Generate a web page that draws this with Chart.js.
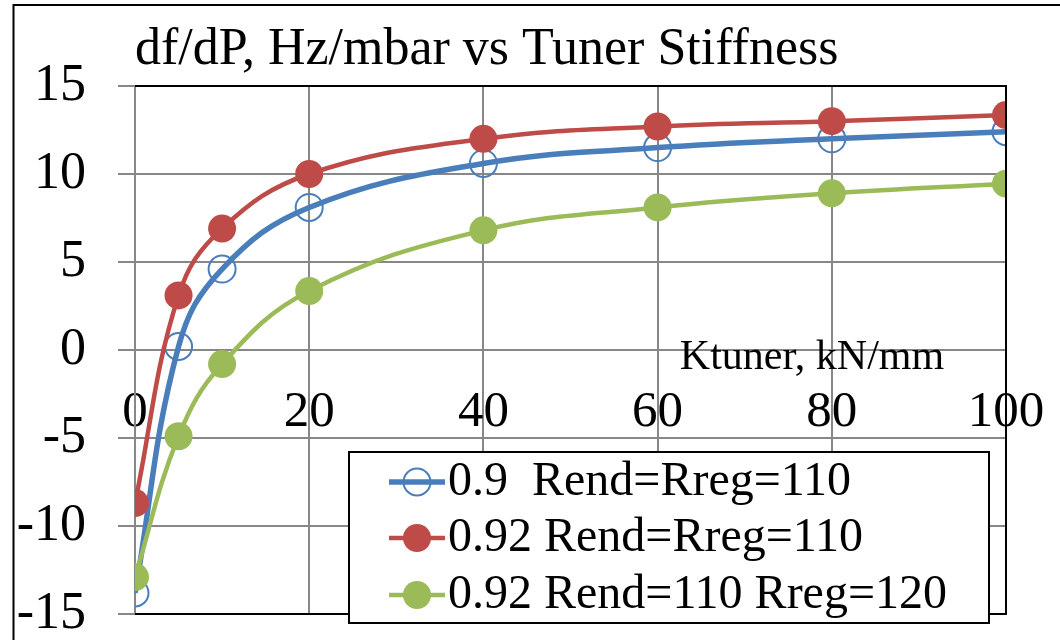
<!DOCTYPE html>
<html>
<head>
<meta charset="utf-8">
<script src="https://cdn.jsdelivr.net/npm/chart.js@4"></script>
<style>
  html, body { margin: 0; padding: 0; background: #fff; }
  #wrap { width: 1060px; height: 640px; }
</style>
</head>
<body>
<div id="wrap"><canvas id="stiffChart" width="1060" height="640"></canvas></div>
<script>
// Ktuner, kN/mm
const kTuner = [0, 5, 10, 20, 40, 60, 80, 100];
// df/dP, Hz/mbar
const s090Rend110 = [-13.8, 0.2, 4.6, 8.1, 10.6, 11.5, 12.0, 12.4];
const s092Rend110 = [-8.7, 3.1, 6.9, 10.0, 12.0, 12.7, 13.0, 13.35];
const s092Rreg120 = [-12.9, -4.9, -0.8, 3.35, 6.8, 8.1, 8.9, 9.45];
const seriesNames = ["0.9  Rend=Rreg=110", "0.92 Rend=Rreg=110", "0.92 Rend=110 Rreg=120"];
const xTicks = [0, 20, 40, 60, 80, 100];
const yTicks = [-15, -10, -5, 0, 5, 10, 15];
const chartTitle = "df/dP, Hz/mbar vs Tuner Stiffness";
const xTitle = "Ktuner, kN/mm";

const serif = "'Liberation Serif', 'Times New Roman', serif";
const gridGray = "#878787";

function toPoints(ys) {
  return kTuner.map(function (x, i) { return { x: x, y: ys[i] }; });
}

// title, legend, plot frame and outer border
const extras = {
  id: "extras",
  afterDraw: function (chart) {
    const ctx = chart.ctx;
    const a = chart.chartArea;
    ctx.save();
    // outer frame
    ctx.strokeStyle = "#000";
    ctx.lineWidth = 2;
    ctx.beginPath();
    ctx.moveTo(13.5, 640);
    ctx.lineTo(13.5, 5);
    ctx.lineTo(1060, 5);
    ctx.stroke();
    // plot frame top/right/bottom
    ctx.beginPath();
    ctx.moveTo(a.left, a.top);
    ctx.lineTo(a.right, a.top);
    ctx.lineTo(a.right, a.bottom);
    ctx.lineTo(a.left, a.bottom);
    ctx.stroke();
    // title
    ctx.fillStyle = "#000";
    ctx.font = "52px " + serif;
    ctx.textAlign = "left";
    ctx.textBaseline = "alphabetic";
    ctx.fillText(chartTitle, a.left, 64);
    // x axis title
    ctx.font = "42px " + serif;
    ctx.textAlign = "center";
    ctx.fillText(xTitle, 812, 369);
    // legend
    const lx = 349, ly = 452, lw = 640, lh = 171;
    ctx.fillStyle = "#fff";
    ctx.fillRect(lx, ly, lw, lh);
    ctx.strokeStyle = "#000";
    ctx.lineWidth = 2;
    ctx.strokeRect(lx, ly, lw, lh);
    const rows = [482, 538, 595];
    chart.data.datasets.forEach(function (ds, i) {
      const y = rows[i];
      ctx.strokeStyle = ds.borderColor;
      ctx.lineWidth = ds.borderWidth;
      ctx.beginPath();
      ctx.moveTo(389, y);
      ctx.lineTo(445, y);
      ctx.stroke();
      ctx.beginPath();
      ctx.arc(417, y, ds.pointRadius, 0, Math.PI * 2);
      if (ds.pointBackgroundColor !== "transparent") {
        ctx.fillStyle = ds.pointBackgroundColor;
        ctx.fill();
      } else {
        ctx.strokeStyle = ds.pointBorderColor;
        ctx.lineWidth = ds.pointBorderWidth;
        ctx.stroke();
      }
      ctx.fillStyle = "#000";
      ctx.font = "48px " + serif;
      ctx.textAlign = "left";
      ctx.textBaseline = "middle";
      ctx.fillText(ds.label, 448, y);
    });
    ctx.restore();
  }
};

const ctx = document.getElementById("stiffChart").getContext("2d");
const stiffChart = new Chart(ctx, {
  type: "line",
  data: {
    datasets: [
      {
        label: seriesNames[0],
        data: toPoints(s090Rend110),
        borderColor: "#4A7EBB",
        borderWidth: 5.5,
        pointRadius: 13.5,
        pointBorderWidth: 2,
        pointBorderColor: "#4A7EBB",
        pointBackgroundColor: "transparent",
        tension: 0.4,
        order: 2
      },
      {
        label: seriesNames[1],
        data: toPoints(s092Rend110),
        borderColor: "#BE4B48",
        borderWidth: 4.5,
        pointRadius: 14,
        pointBorderWidth: 0,
        pointBorderColor: "#BE4B48",
        pointBackgroundColor: "#BE4B48",
        tension: 0.4,
        order: 1
      },
      {
        label: seriesNames[2],
        data: toPoints(s092Rreg120),
        borderColor: "#9BBB59",
        borderWidth: 4.5,
        pointRadius: 14,
        pointBorderWidth: 0,
        pointBorderColor: "#9BBB59",
        pointBackgroundColor: "#9BBB59",
        tension: 0.4,
        order: 0
      }
    ]
  },
  options: {
    responsive: false,
    devicePixelRatio: 1,
    animation: false,
    layout: { padding: { top: 86, right: 54, bottom: 26, left: 0 } },
    plugins: {
      legend: { display: false },
      title: { display: false },
      tooltip: { enabled: false }
    },
    scales: {
      x: {
        type: "linear",
        position: { y: 0 },
        min: 0,
        max: 100,
        afterBuildTicks: function (scale) {
          scale.ticks = xTicks.map(function (v) { return { value: v }; });
        },
        afterFit: function (scale) {
          scale.paddingLeft = 0;
          scale.paddingRight = 0;
        },
        grid: { color: gridGray, lineWidth: 2, drawTicks: false },
        border: { display: true, color: gridGray, width: 2 },
        ticks: {
          color: "#000",
          padding: 32,
          maxRotation: 0,
          font: { family: serif, size: 51 }
        }
      },
      y: {
        type: "linear",
        position: "left",
        min: -15,
        max: 15,
        afterBuildTicks: function (scale) {
          scale.ticks = yTicks.map(function (v) { return { value: v }; });
        },
        afterFit: function (scale) {
          scale.width = 135;
          scale.paddingTop = 0;
          scale.paddingBottom = 0;
        },
        grid: { color: gridGray, lineWidth: 2, drawTicks: true, tickLength: 17 },
        border: { display: true, color: gridGray, width: 2 },
        ticks: {
          color: "#000",
          padding: 32,
          font: { family: serif, size: 52, lineHeight: 1 }
        }
      }
    }
  },
  plugins: [extras]
});
</script>
</body>
</html>
